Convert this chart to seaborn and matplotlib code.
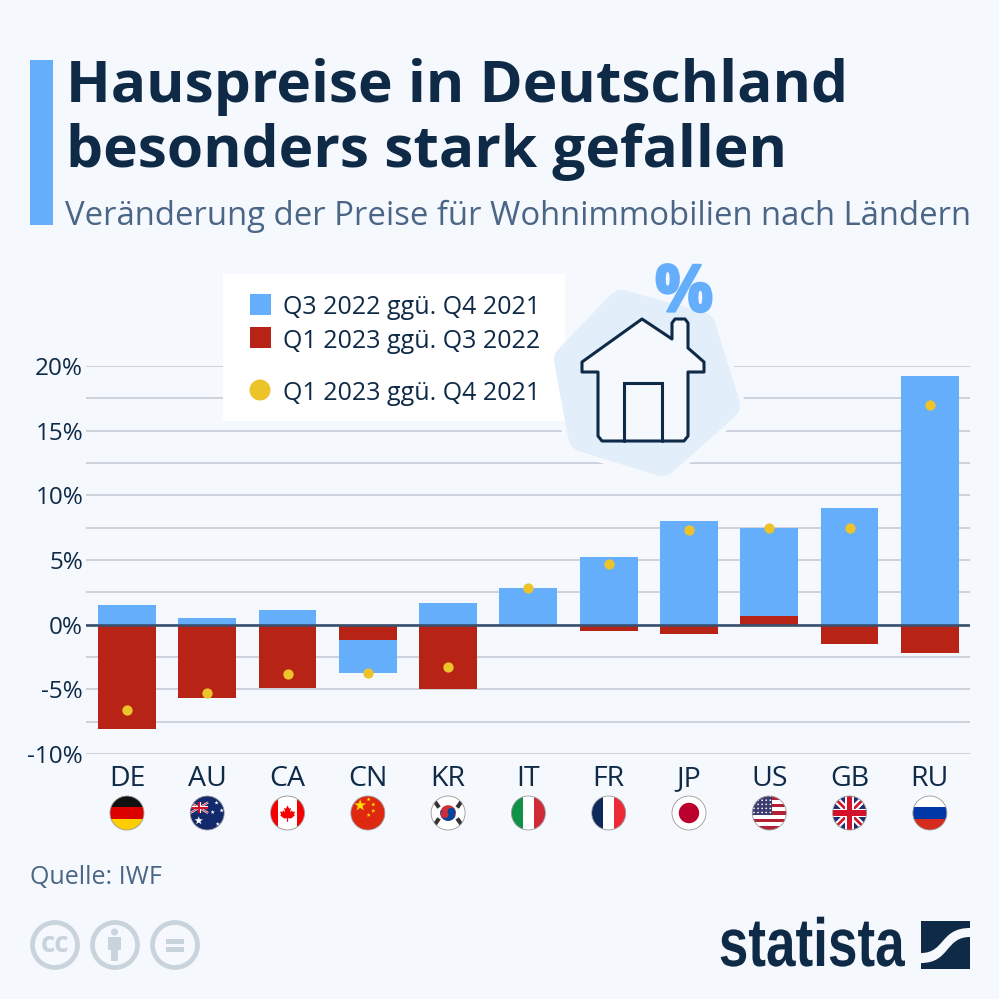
import numpy as np
import matplotlib
matplotlib.use("Agg")
import matplotlib.pyplot as plt
import matplotlib.patheffects as pe
import seaborn as sns
from matplotlib.patches import Circle, PathPatch, Polygon, Rectangle
from matplotlib.path import Path
from matplotlib.transforms import Affine2D

countries = ["DE", "AU", "CA", "CN", "KR", "IT", "FR", "JP", "US", "GB", "RU"]
q3_2022 = [1.5, 0.5, 1.1, -3.7, 1.7, 2.8, 5.2, 8.0, 7.5, 9.0, 19.2]
q1_2023 = [-8.1, -5.7, -4.9, -1.2, -5.0, 0.0, -0.5, -0.7, 0.7, -1.5, -2.2]
total = [-6.6, -5.3, -3.8, -3.7, -3.3, 2.8, 4.7, 7.3, 7.5, 7.5, 17.0]
y_ticks = [-10, -5, 0, 5, 10, 15, 20]
y_minor = [-7.5, -2.5, 2.5, 7.5, 12.5, 17.5]
legend_labels = ["Q3 2022 ggü. Q4 2021", "Q1 2023 ggü. Q3 2022", "Q1 2023 ggü. Q4 2021"]

BG = "#f5f8fc"
BLUE = "#64aefc"
RED = "#b72416"
YELLOW = "#ecc42a"
NAVY = "#0f2a47"
SUB = "#4a6585"
GRID = "#c9ced9"
CC = "#c8d3dc"
FONT = ["Open Sans", "DejaVu Sans"]

sns.set_theme(style="white")
plt.rcParams["font.family"] = FONT


class SqueezeX(pe.AbstractPathEffect):
    # narrows text around a fixed x, no condensed bold font is installed
    def __init__(self, sx, x0):
        super().__init__()
        self.sx = sx
        self.x0 = x0

    def draw_path(self, renderer, gc, tpath, affine, rgbFace=None):
        squeeze = Affine2D().translate(-self.x0, 0).scale(self.sx, 1).translate(self.x0, 0)
        renderer.draw_path(gc, tpath, affine + squeeze, rgbFace)


fig = plt.figure(figsize=(9.99, 9.99), dpi=100, facecolor=BG)
ax = fig.add_axes([86 / 999, (999 - 754) / 999, (970 - 86) / 999, (754 - 366) / 999])
ax.set_facecolor("none")

sns.barplot(x=countries, y=q3_2022, color=BLUE, saturation=1, width=0.72, errorbar=None, linewidth=0, ax=ax, zorder=2)
sns.barplot(x=countries, y=q1_2023, color=RED, saturation=1, width=0.72, errorbar=None, linewidth=0, ax=ax, zorder=2)
sns.stripplot(x=countries, y=total, color=YELLOW, jitter=False, size=7.4, linewidth=0, ax=ax, zorder=4)

ax.set_xlim(-0.51, 10.5)
ax.set_ylim(-10, 20)
ax.set_yticks(y_ticks)
ax.set_yticklabels([f"{v}%" for v in y_ticks])
ax.set_yticks(y_minor, minor=True)
ax.grid(True, axis="y", which="both", color=GRID, lw=1.3)
ax.set_axisbelow(True)
ax.axhline(0, color="#3a506e", lw=1.9, zorder=3)
ax.tick_params(axis="y", which="both", length=0, pad=2, labelsize=17.5, labelcolor=NAVY)
ax.tick_params(axis="x", length=0, pad=8, labelsize=20.5, labelcolor=NAVY)
sns.despine(ax=ax, left=True, bottom=True)

# overlay in image pixels for everything around the chart
ov = fig.add_axes([0, 0, 1, 1], facecolor="none")
ov.set_xlim(0, 999)
ov.set_ylim(999, 0)
ov.axis("off")

ov.add_patch(Rectangle((30, 60), 23, 165, color=BLUE, lw=0))
ov.text(66, 87, "Hauspreise in Deutschland", fontsize=42.1, fontweight="bold", color=NAVY, va="center")
ov.text(66, 152, "besonders stark gefallen", fontsize=42.1, fontweight="bold", color=NAVY, va="center")
ov.text(65, 216, "Veränderung der Preise für Wohnimmobilien nach Ländern", fontsize=23.65, color=SUB, va="center")

# house icon background, halo goes under the legend box
blob = [(570, 360), (622, 306), (700, 328), (724, 405), (662, 460), (584, 436)]
ov.add_patch(Polygon(blob, closed=True, fc=BG, ec=BG, lw=30, joinstyle="round"))

# legend box
ov.add_patch(Rectangle((223, 274), 342, 147, color="white", lw=0))
ov.add_patch(Rectangle((250, 294), 21, 21, color=BLUE, lw=0))
ov.add_patch(Rectangle((250, 327), 21, 21, color=RED, lw=0))
ov.add_patch(Circle((260, 390), 10.5, color=YELLOW, lw=0))
for lab, ly in zip(legend_labels, [307, 341, 393]):
    ov.text(283, ly, lab, fontsize=18, color=NAVY, va="center")

ov.add_patch(Polygon(blob, closed=True, fc="#e3eefb", ec="#e3eefb", lw=23, joinstyle="round"))
house = [(582, 372), (582, 362), (642, 319), (672, 339), (672, 323), (675, 319), (685, 319), (688, 323),
         (688, 348), (704, 362), (704, 372), (688, 372), (688, 436), (684, 441), (602, 441), (598, 436),
         (598, 372)]
ov.add_patch(Polygon(house, closed=True, fc=BG, ec=NAVY, lw=2.2, joinstyle="round"))
ov.plot([624, 624, 662, 662], [441, 383, 383, 441], color=NAVY, lw=2.2, solid_joinstyle="miter")
ov.text(684, 295, "%", fontsize=47, fontweight="bold", color=BLUE, ha="center", va="center",
        path_effects=[pe.withStroke(linewidth=1.6, foreground=BLUE)])


def stripes(t, colors, vertical=False):
    n = len(colors)
    for i, c in enumerate(colors):
        if vertical:
            yield Rectangle((-1 + 2 * i / n, -1), 2 / n, 2, fc=c, lw=0, transform=t)
        else:
            yield Rectangle((-1, 1 - 2 * (i + 1) / n), 2, 2 / n, fc=c, lw=0, transform=t)


def union_jack(t, x0, y0, x1, y1):
    # x0,y0 lower left of the jack in flag units
    w, h = x1 - x0, y1 - y0
    out = [Rectangle((x0, y0), w, h, fc="#1d2f6f", lw=0, transform=t)]
    for a, b, col, lw in [((x0, y0), (x1, y1), "white", 0.1 * h), ((x0, y1), (x1, y0), "white", 0.1 * h),
                          ((x0, y0), (x1, y1), "#d3112b", 0.04 * h), ((x0, y1), (x1, y0), "#d3112b", 0.04 * h)]:
        d = np.array(b) - np.array(a)
        n = np.array([-d[1], d[0]]) / np.hypot(*d) * lw
        pts = [np.array(a) + n, np.array(b) + n, np.array(b) - n, np.array(a) - n]
        out.append(Polygon(pts, closed=True, fc=col, lw=0, transform=t))
    cx, cy = (x0 + x1) / 2, (y0 + y1) / 2
    out.append(Rectangle((x0, cy - 0.13 * h), w, 0.26 * h, fc="white", lw=0, transform=t))
    out.append(Rectangle((cx - 0.13 * h, y0), 0.26 * h, h, fc="white", lw=0, transform=t))
    out.append(Rectangle((x0, cy - 0.08 * h), w, 0.16 * h, fc="#d3112b", lw=0, transform=t))
    out.append(Rectangle((cx - 0.08 * h, y0), 0.16 * h, h, fc="#d3112b", lw=0, transform=t))
    return out


def star(cx, cy, r, rot=90):
    ang = np.radians(rot + np.arange(10) * 36)
    rad = np.where(np.arange(10) % 2 == 0, r, r * 0.4)
    return np.column_stack([cx + rad * np.cos(ang), cy + rad * np.sin(ang)])


def flag_parts(code, t):
    if code == "DE":
        return list(stripes(t, ["#111111", "#dd0000", "#ffce00"]))
    if code == "IT":
        return list(stripes(t, ["#0f9247", "#ffffff", "#cf2b37"], vertical=True))
    if code == "FR":
        return list(stripes(t, ["#0d2a5c", "#ffffff", "#ee2a39"], vertical=True))
    if code == "RU":
        return list(stripes(t, ["#ffffff", "#0039a6", "#d52b1e"]))
    if code == "JP":
        return [Rectangle((-1, -1), 2, 2, fc="white", lw=0, transform=t),
                Circle((0, 0), 0.6, fc="#bc002d", lw=0, transform=t)]
    if code == "AU":
        parts = [Rectangle((-1, -1), 2, 2, fc="#12296b", lw=0, transform=t)]
        parts += union_jack(t, -1, 0, 0.05, 0.62)
        parts.append(Polygon(star(-0.5, -0.45, 0.26), closed=True, fc="white", lw=0, transform=t))
        for sx, sy in [(0.55, 0.6), (0.62, -0.65), (0.32, 0.05), (0.85, 0.15)]:
            parts.append(Polygon(star(sx, sy, 0.13), closed=True, fc="white", lw=0, transform=t))
        return parts
    if code == "CA":
        leaf = [(0, 0.62), (0.13, 0.35), (0.28, 0.42), (0.2, 0.05), (0.36, 0.22), (0.42, 0.08), (0.62, 0.12),
                (0.52, -0.12), (0.6, -0.2), (0.28, -0.45), (0.05, -0.42), (0.05, -0.72), (-0.05, -0.72),
                (-0.05, -0.42), (-0.28, -0.45), (-0.6, -0.2), (-0.52, -0.12), (-0.62, 0.12), (-0.42, 0.08),
                (-0.36, 0.22), (-0.2, 0.05), (-0.28, 0.42), (-0.13, 0.35)]
        parts = [Rectangle((-1, -1), 2, 2, fc="#f40000", lw=0, transform=t),
                 Rectangle((-0.55, -1), 1.1, 2, fc="white", lw=0, transform=t)]
        parts.append(Polygon(np.array(leaf) * 0.72, closed=True, fc="#f40000", lw=0, transform=t))
        return parts
    if code == "CN":
        parts = [Rectangle((-1, -1), 2, 2, fc="#de2910", lw=0, transform=t)]
        parts.append(Polygon(star(-0.45, 0.45, 0.36), closed=True, fc="#ffde00", lw=0, transform=t))
        for sx, sy in [(0.05, 0.8), (0.32, 0.5), (0.32, 0.12), (0.05, -0.12)]:
            parts.append(Polygon(star(sx, sy, 0.13), closed=True, fc="#ffde00", lw=0, transform=t))
        return parts
    if code == "KR":
        parts = [Rectangle((-1, -1), 2, 2, fc="white", lw=0, transform=t),
                 Circle((0, 0), 0.46, fc="#cd2e3a", lw=0, transform=t),
                 PathPatch(Path.wedge(180, 360), fc="#0047a0", lw=0,
                           transform=Affine2D().rotate_deg(-20).scale(0.46) + t),
                 Circle((-0.2, -0.07), 0.23, fc="#cd2e3a", lw=0, transform=t),
                 Circle((0.2, 0.07), 0.23, fc="#0047a0", lw=0, transform=t)]
        for sx, sy, rot in [(-0.66, 0.5, -55), (0.66, 0.5, 55), (-0.66, -0.5, 55), (0.66, -0.5, -55)]:
            parts.append(Rectangle((-0.22, -0.12), 0.44, 0.24, fc="#333333", lw=0,
                                   transform=Affine2D().rotate_deg(rot).translate(sx, sy) + t))
        return parts
    if code == "US":
        cols = ["#b22234" if i % 2 == 0 else "white" for i in range(9)]
        parts = list(stripes(t, cols))
        parts.append(Rectangle((-1, -0.1), 1.15, 1.1, fc="#3c3b6e", lw=0, transform=t))
        for sx in np.arange(-0.9, 0.1, 0.24):
            for sy in np.arange(0.03, 1.0, 0.24):
                parts.append(Circle((sx, sy), 0.05, fc="white", lw=0, transform=t))
        return parts
    if code == "GB":
        return union_jack(t, -1, -1, 1, 1)
    return []


# flags below the country labels, x follows the category axis
for i, code in enumerate(countries):
    px = ax.transData.transform((i, 0))[0] / fig.dpi / 9.99 * 999
    t = Affine2D().scale(17, -17).translate(px, 813) + ov.transData
    clip = Circle((0, 0), 1, transform=t, fc="none", lw=0)
    ov.add_patch(clip)
    for part in flag_parts(code, t):
        ov.add_patch(part)
        part.set_clip_path(clip)
    ov.add_patch(Circle((0, 0), 1, fc="none", ec="#9a9a9a", lw=0.6, transform=t))

ov.text(30, 877, "Quelle: IWF", fontsize=18, color=SUB, va="center")

# cc icons
for cx in [55, 115, 175]:
    ov.add_patch(Circle((cx, 945), 22.5, fc="none", ec=CC, lw=3.4))
ov.text(54.5, 945, "cc", fontsize=20, fontweight="bold", color=CC, ha="center", va="center")
ov.add_patch(Circle((114.5, 932), 3.5, color=CC, lw=0))
ov.add_patch(Rectangle((108, 937), 13, 13, color=CC, lw=0))
ov.add_patch(Rectangle((111, 950), 7, 11, color=CC, lw=0))
ov.add_patch(Rectangle((166, 939), 18, 4.5, color=CC, lw=0))
ov.add_patch(Rectangle((166, 947), 18, 4.5, color=CC, lw=0))

# statista logo
ov.text(905, 948, "statista", fontsize=49, fontweight="bold", family=["Liberation Sans", "DejaVu Sans"],
        color=NAVY, ha="right", va="center", path_effects=[SqueezeX(0.78, 905)])
ov.add_patch(Rectangle((921, 921), 49, 48, color=NAVY, lw=0))
swoosh = Path([(921, 953), (945, 953), (940, 928), (970, 928), (970, 937), (945, 937), (950, 963), (921, 963), (921, 953)],
              [Path.MOVETO, Path.CURVE4, Path.CURVE4, Path.CURVE4, Path.LINETO, Path.CURVE4, Path.CURVE4, Path.CURVE4,
               Path.CLOSEPOLY])
ov.add_patch(PathPatch(swoosh, fc=BG, lw=0))

fig.savefig("out.png", dpi=100, facecolor=BG)
